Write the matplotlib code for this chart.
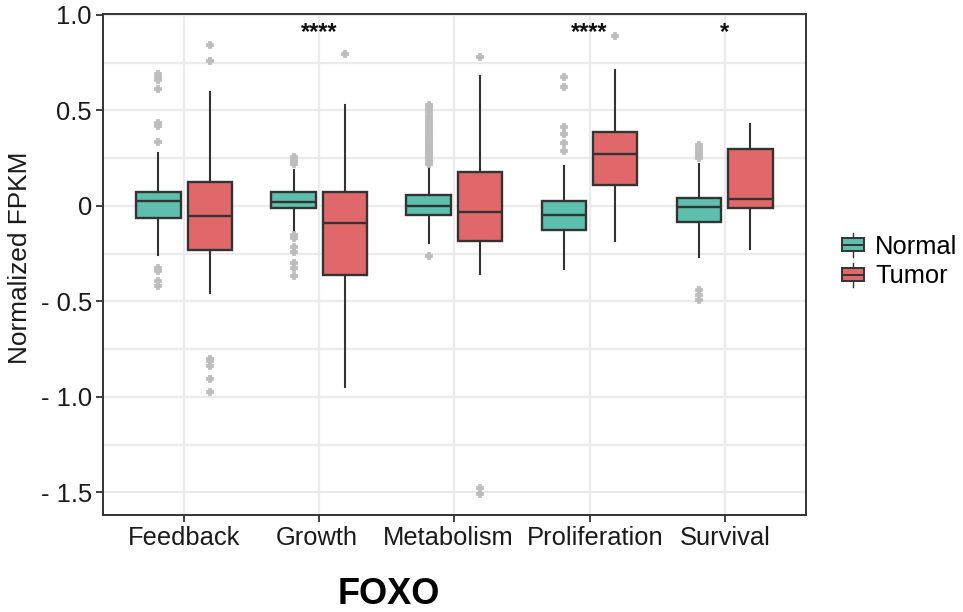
import numpy as np
import matplotlib
matplotlib.use('Agg')
import matplotlib.pyplot as plt
import matplotlib.transforms as mtransforms
from matplotlib.patches import Rectangle
from matplotlib.lines import Line2D
from matplotlib.legend_handler import HandlerBase

plt.rcParams['font.family'] = ['Liberation Sans', 'DejaVu Sans']

categories = ['Feedback', 'Growth', 'Metabolism', 'Proliferation', 'Survival']
sig_labels = ['', '****', '', '****', '*']

# box summaries: lower whisker, q1, median, q3, upper whisker
normal_lo = [-0.257, -0.131, -0.194, -0.333, -0.267]
normal_q1 = [-0.066, -0.014, -0.050, -0.127, -0.085]
normal_med = [0.023, 0.021, 0.000, -0.049, -0.005]
normal_q3 = [0.070, 0.070, 0.054, 0.023, 0.042]
normal_hi = [0.278, 0.187, 0.206, 0.210, 0.219]
normal_out = [
    [0.690, 0.676, 0.659, 0.610, 0.435, 0.420, 0.334, -0.325, -0.340, -0.395, -0.420],
    [0.254, 0.236, 0.220, -0.154, -0.171, -0.215, -0.241, -0.302, -0.328, -0.368],
    [0.530, 0.520, 0.505, 0.490, 0.470, 0.455, 0.440, 0.430, 0.415, 0.400, 0.385,
     0.370, 0.360, 0.350, 0.340, 0.330, 0.320, 0.310, 0.300, 0.290, 0.280, 0.272,
     0.265, 0.258, 0.250, 0.244, 0.238, 0.232, 0.226, 0.220, -0.265],
    [0.676, 0.620, 0.414, 0.376, 0.327, 0.288],
    [0.318, 0.300, 0.285, 0.274, 0.260, 0.248, -0.442, -0.468, -0.494],
]

tumor_lo = [-0.459, -0.949, -0.358, -0.183, -0.225]
tumor_q1 = [-0.232, -0.360, -0.185, 0.107, -0.014]
tumor_med = [-0.056, -0.089, -0.035, 0.269, 0.035]
tumor_q3 = [0.124, 0.070, 0.178, 0.388, 0.299]
tumor_hi = [0.594, 0.528, 0.678, 0.713, 0.427]
tumor_out = [
    [0.842, 0.760, -0.800, -0.815, -0.839, -0.905, -0.975],
    [0.795],
    [0.778, -1.480, -1.507],
    [0.891],
    [],
]

groups = ['Normal', 'Tumor']
colors = ['#5dbfae', '#e0686a']
edge = '#333333'
grid_c = '#ebebeb'


def stats(lo, q1, med, q3, hi, out):
    return [dict(whislo=a, q1=b, med=c, q3=d, whishi=e, fliers=f)
            for a, b, c, d, e, f in zip(lo, q1, med, q3, hi, out)]


fig = plt.figure(figsize=(9.63, 6.12), dpi=100)
ax = fig.add_axes([0.107, 0.1585, 0.7297, 0.8186])

x = np.arange(1, len(categories) + 1)
sets = [
    stats(normal_lo, normal_q1, normal_med, normal_q3, normal_hi, normal_out),
    stats(tumor_lo, tumor_q1, tumor_med, tumor_q3, tumor_hi, tumor_out),
]
for st, col, off in zip(sets, colors, [-0.19, 0.19]):
    ax.bxp(st, positions=x + off, widths=0.33, patch_artist=True,
           showcaps=False, manage_ticks=False,
           boxprops=dict(facecolor=col, edgecolor=edge, linewidth=1.7),
           medianprops=dict(color=edge, linewidth=1.7),
           whiskerprops=dict(color=edge, linewidth=1.5),
           flierprops=dict(marker='P', markersize=5, markerfacecolor='#bdbdbd',
                           markeredgecolor='#bdbdbd', markeredgewidth=1.3,
                           linestyle='none'),
           zorder=3)

# significance marks above the groups
for xi, s in zip(x, sig_labels):
    if s:
        ax.text(xi, 0.905, s, ha='center', va='center', fontsize=17,
                fontweight='bold', color='#111111')

ax.set_xlim(0.4, 5.6)
ax.set_ylim(-1.619, 1.004)
ax.set_xticks(x)
ax.set_xticklabels(categories)
ax.set_yticks([-1.5, -1.0, -0.5, 0, 0.5, 1.0])
ax.set_yticklabels(['- 1.5', '- 1.0', '- 0.5', '0', '0.5', '1.0'])
ax.set_yticks([-1.25, -0.75, -0.25, 0.25, 0.75], minor=True)
ax.tick_params(axis='both', which='major', labelsize=18.4, colors='#333333',
               labelcolor='#1a1a1a', length=5, width=1.3, pad=3)
ax.tick_params(axis='y', which='minor', length=0)
ax.grid(True, which='major', color=grid_c, linewidth=1.6, zorder=0)
ax.grid(True, which='minor', axis='y', color=grid_c, linewidth=1.6, zorder=0)
ax.set_axisbelow(True)
for sp in ax.spines.values():
    sp.set_color(edge)
    sp.set_linewidth(1.4)

# nudge the two long middle labels apart so they don't run together
for lab, dx in zip(ax.get_xticklabels(), [0, -3, -6, 6, 1]):
    lab.set_transform(lab.get_transform() +
                      mtransforms.ScaledTranslation(dx / 100, 0, fig.dpi_scale_trans))

fig.text(20 / 963, 0.578, 'Normalized FPKM', rotation=90, ha='center', va='center',
         fontsize=18.9, color='#1a1a1a')
fig.text(389 / 963, 0.028, 'FOXO', ha='center', va='center', fontsize=26,
         fontweight='bold', color='black')


class BoxKey(HandlerBase):
    def create_artists(self, legend, orig_handle, xdescent, ydescent, width, height,
                       fontsize, trans):
        fc = orig_handle.get_facecolor()
        cx = width / 2 - xdescent
        bh = height * 0.56
        y0 = (height - bh) / 2 - ydescent
        rect = Rectangle((-xdescent, y0), width, bh, facecolor=fc, edgecolor=edge,
                         linewidth=1.4, transform=trans)
        med = Line2D([-xdescent, width - xdescent], [y0 + bh / 2] * 2, color=edge,
                     linewidth=1.4, transform=trans)
        wh_top = Line2D([cx, cx], [y0 + bh, height - ydescent], color=edge,
                        linewidth=1.0, transform=trans)
        wh_bot = Line2D([cx, cx], [-ydescent, y0], color=edge, linewidth=1.0,
                        transform=trans)
        return [rect, med, wh_top, wh_bot]


handles = [Rectangle((0, 0), 1, 1, facecolor=c) for c in colors]
fig.legend(handles, groups, handler_map={Rectangle: BoxKey()},
           loc='center left', bbox_to_anchor=(842 / 963, 0.574),
           bbox_transform=fig.transFigure, frameon=False, fontsize=18.4,
           handlelength=0.88, handleheight=1.05, handletextpad=0.42,
           labelspacing=0.17, borderpad=0, borderaxespad=0)

fig.savefig('out.png', dpi=100)
